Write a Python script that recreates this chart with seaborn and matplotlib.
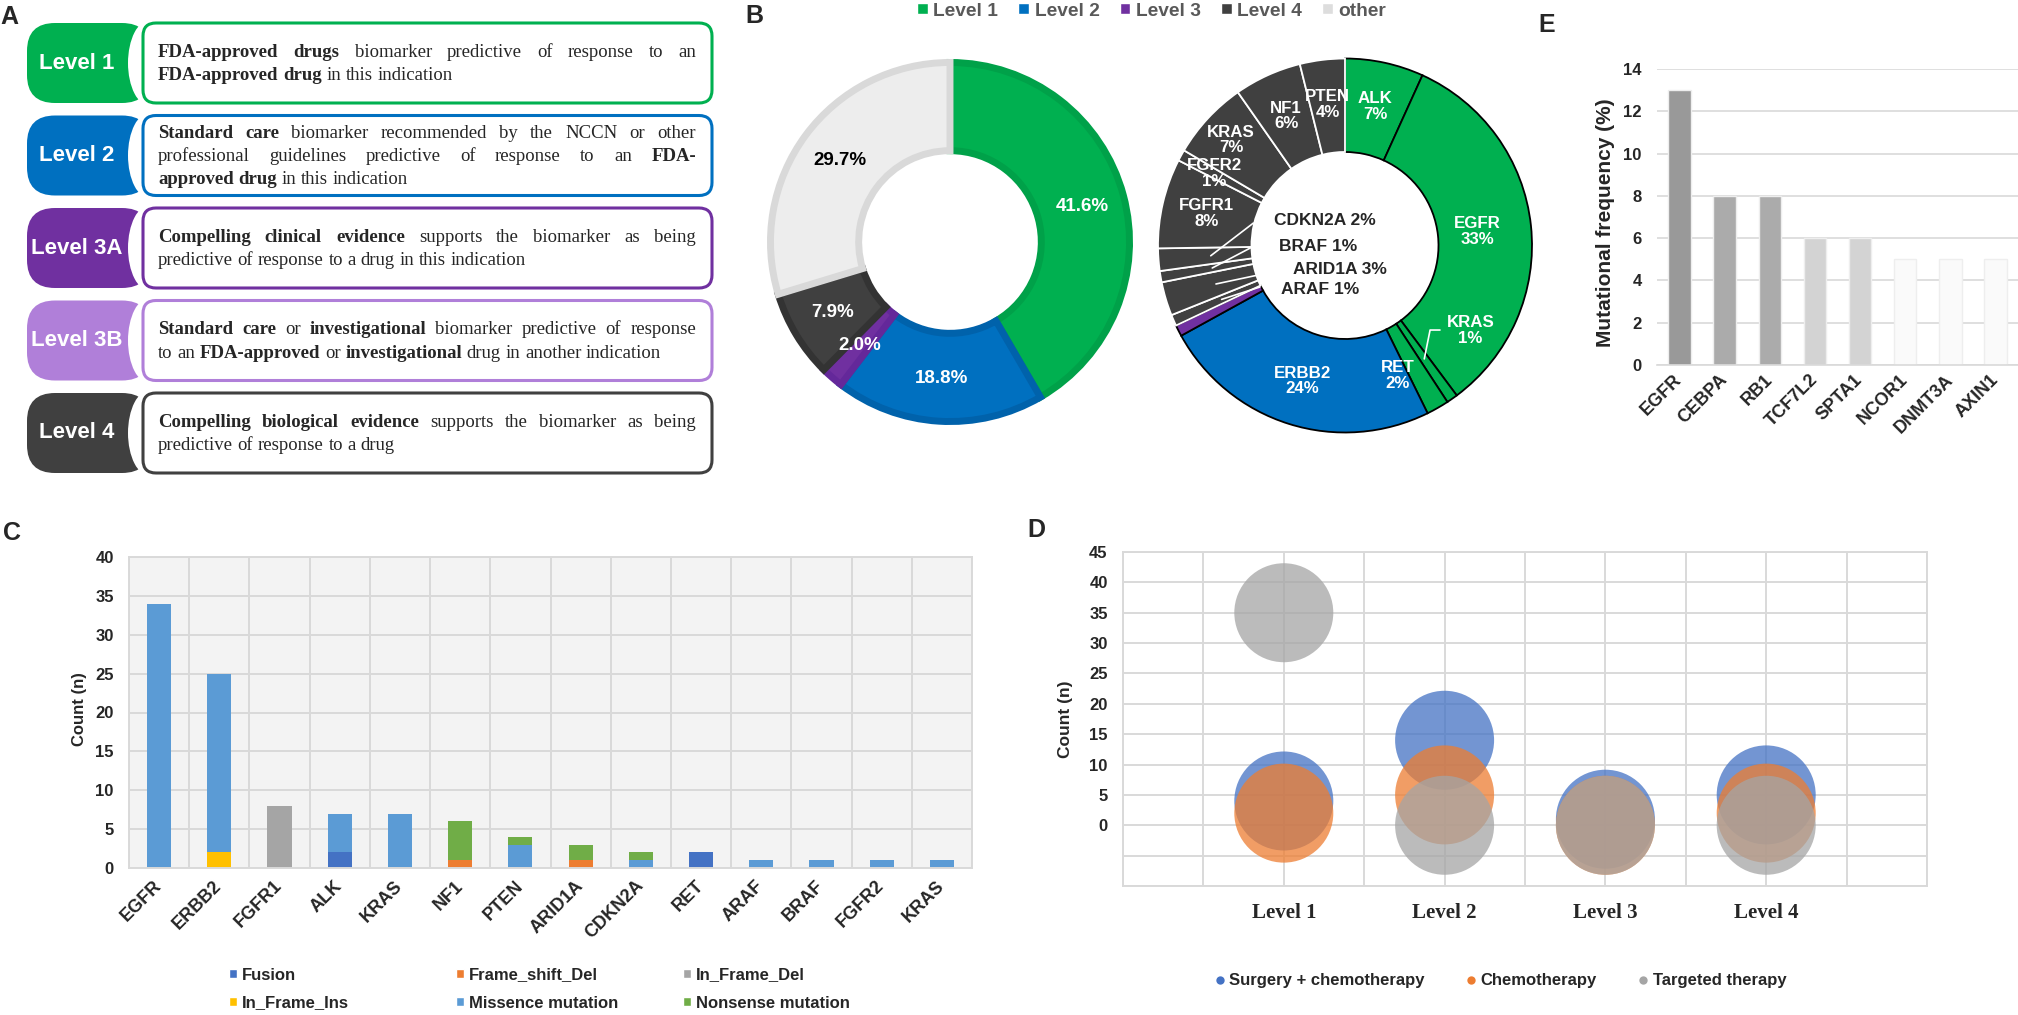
import numpy as np
import pandas as pd
import matplotlib
matplotlib.use("Agg")
import matplotlib.pyplot as plt
import seaborn as sns
from matplotlib.patches import FancyBboxPatch, Ellipse, Patch
from matplotlib.lines import Line2D
from matplotlib.ticker import FuncFormatter

#Data#########################################################################

#Panel A: evidence levels
a_levels = ["Level 1", "Level 2", "Level 3A", "Level 3B", "Level 4"]
a_colors = ["#00B050", "#0070C0", "#7030A0", "#B07FD9", "#404040"]
a_lines = [
    ["*FDA-approved drugs* biomarker predictive of response to an",
     "*FDA-approved drug* in this indication"],
    ["*Standard care* biomarker recommended by the NCCN or other",
     "professional guidelines predictive of response to an *FDA-*",
     "*approved drug* in this indication"],
    ["*Compelling clinical evidence* supports the biomarker as being",
     "predictive of response to a drug in this indication"],
    ["*Standard care* or *investigational* biomarker predictive of response",
     "to an *FDA-approved* or *investigational* drug in another indication"],
    ["*Compelling biological evidence* supports the biomarker as being",
     "predictive of response to a drug"],
]

#Panel B: share by level (left ring) and genes (right ring)
b_levels = ["Level 1", "Level 2", "Level 3", "Level 4", "other"]
b_share = [41.6, 18.8, 2.0, 7.9, 29.7]
b_colors = ["#00B050", "#0070C0", "#7030A0", "#404040", "#EDEDED"]
b_edges = ["#00A149", "#0062AB", "#64289A", "#333333", "#D9D9D9"]

r_genes = ["ALK", "EGFR", "KRAS", "RET", "ERBB2", "", "ARAF", "ARID1A", "BRAF",
           "CDKN2A", "FGFR1", "FGFR2", "KRAS", "NF1", "PTEN"]
r_counts = [7, 34, 1, 2, 25, 1, 1, 3, 1, 2, 8, 1, 7, 6, 4]
r_level = ["Level 1", "Level 1", "Level 1", "Level 1", "Level 2", "Level 3",
           "Level 4", "Level 4", "Level 4", "Level 4", "Level 4", "Level 4",
           "Level 4", "Level 4", "Level 4"]

#Panel C: mutation types per gene
c_genes = ["EGFR", "ERBB2", "FGFR1", "ALK", "KRAS", "NF1", "PTEN", "ARID1A",
           "CDKN2A", "RET", "ARAF", "BRAF", "FGFR2", "KRAS"]
c_types = ["Fusion", "Frame_shift_Del", "In_Frame_Del", "In_Frame_Ins",
           "Missence mutation", "Nonsense mutation"]
c_fusion = [0, 0, 0, 2, 0, 0, 0, 0, 0, 2, 0, 0, 0, 0]
c_frameshift = [0, 0, 0, 0, 0, 1, 0, 1, 0, 0, 0, 0, 0, 0]
c_inframe_del = [0, 0, 8, 0, 0, 0, 0, 0, 0, 0, 0, 0, 0, 0]
c_inframe_ins = [0, 2, 0, 0, 0, 0, 0, 0, 0, 0, 0, 0, 0, 0]
c_missence = [34, 23, 0, 5, 7, 0, 3, 0, 1, 0, 1, 1, 1, 1]
c_nonsense = [0, 0, 0, 0, 0, 5, 1, 2, 1, 0, 0, 0, 0, 0]
c_colors = ["#4472C4", "#ED7D31", "#A5A5A5", "#FFC000", "#5B9BD5", "#70AD47"]

#Panel D: therapy by level
d_levels = ["Level 1", "Level 2", "Level 3", "Level 4"]
d_therapies = ["Surgery + chemotherapy", "Chemotherapy", "Targeted therapy"]
d_surgery = [4, 14, 1, 5]
d_chemo = [2, 5, 0, 2]
d_targeted = [35, 0, 0, 0]
d_colors = ["#4472C4", "#ED7D31", "#A5A5A5"]

#Panel E: mutational frequency
e_genes = ["EGFR", "CEBPA", "RB1", "TCF7L2", "SPTA1", "NCOR1", "DNMT3A", "AXIN1"]
e_freq = [13, 8, 8, 6, 6, 5, 5, 5]
e_colors = ["#999999", "#ABABAB", "#ABABAB", "#D3D3D3", "#D3D3D3",
            "#FAFAFA", "#FAFAFA", "#FAFAFA"]

#Figure########################################################################

W, H = 2018, 1015
sns.set_style("white")
plt.rcParams["font.family"] = ["Liberation Sans", "DejaVu Sans"]
GRID = "#D9D9D9"

fig = plt.figure(figsize=(W / 100, H / 100), dpi=100)


#Axes placed by pixel box (left, top, right, bottom)
def px_axes(x0, y0, x1, y1):
    return fig.add_axes([x0 / W, 1 - y1 / H, (x1 - x0) / W, (y1 - y0) / H])


def bold_ticks(labels):
    for lab in labels:
        lab.set_fontweight("bold")


#Overlay in pixel coordinates for panel A and the letters
ov = fig.add_axes([0, 0, 1, 1])
ov.set_xlim(0, W)
ov.set_ylim(H, 0)
ov.axis("off")


def parse_line(line):
    out = []
    bold = False
    for w in line.split(" "):
        if w.startswith("*"):
            bold = True
            w = w[1:]
        end = w.endswith("*")
        if end:
            w = w[:-1]
        out.append((w, bold))
        if end:
            bold = False
    return out


renderer = fig.canvas.get_renderer()


def draw_line(x0, x1, y, line, justify, size=13.5):
    words = parse_line(line)
    texts = []
    for w, b in words:
        texts.append(ov.text(0, y, w, fontsize=size, family="Liberation Serif",
                             fontweight="bold" if b else "normal",
                             ha="left", va="center", zorder=5))
    widths = [t.get_window_extent(renderer).width for t in texts]
    if justify and len(texts) > 1:
        gap = (x1 - x0 - sum(widths)) / (len(texts) - 1)
    else:
        gap = size * 100 / 72 * 0.25
    x = x0
    for t, wd in zip(texts, widths):
        t.set_x(x)
        x += wd + gap


#Panel A#######################################################################
for i, (lvl, col, lines) in enumerate(zip(a_levels, a_colors, a_lines)):
    top = 23 + i * 92.5
    hgt = 80
    pill = FancyBboxPatch((27, top), 123, hgt,
                          boxstyle="round,pad=0,rounding_size=28",
                          fc=col, ec="none", zorder=1)
    ov.add_patch(pill)
    ov.add_patch(Ellipse((150, top + hgt / 2), 44, 86, fc="white", ec="none", zorder=2))
    box = FancyBboxPatch((143, top), 569, hgt,
                         boxstyle="round,pad=0,rounding_size=13",
                         fc="white", ec=col, lw=2.2, zorder=3)
    ov.add_patch(box)
    ov.text(77, top + hgt / 2, lvl, color="white", fontsize=16,
            fontweight="bold", ha="center", va="center", zorder=4)
    n = len(lines)
    y0 = top + 41 - (n - 1) * 23 / 2
    for j, line in enumerate(lines):
        draw_line(158, 696, y0 + j * 23, line, justify=(j < n - 1))

#Panel letters
for lab, x, y in [("A", 9, 17), ("B", 754, 16), ("C", 12, 533),
                  ("D", 1036, 530), ("E", 1547, 25)]:
    ov.text(x, y, lab, fontsize=18, fontweight="bold", ha="center", va="center")

#Panel B: left ring#############################################################
axL = px_axes(767, 59, 1133, 425)
wedges, _ = axL.pie(b_share, startangle=90, counterclock=False, radius=0.981,
                    colors=b_colors, wedgeprops=dict(width=0.482, linewidth=5))
for w, ec in zip(wedges, b_edges):
    w.set_edgecolor(ec)
axL.set_xlim(-1, 1)
axL.set_ylim(-1, 1)
for w, v, tc in zip(wedges, b_share, ["white"] * 4 + ["black"]):
    ang = np.deg2rad((w.theta1 + w.theta2) / 2)
    axL.text(0.75 * np.cos(ang), 0.75 * np.sin(ang), f"{v:.1f}%", color=tc,
             fontsize=13.5, fontweight="bold", ha="center", va="center")

#Panel B: right ring############################################################
axR = px_axes(1158, 58.5, 1532, 432.5)
level_col = dict(zip(b_levels, b_colors))
r_cols = [level_col[l] for l in r_level]
wedges, _ = axR.pie(r_counts, startangle=90, counterclock=False, radius=1,
                    colors=r_cols, wedgeprops=dict(width=0.5, linewidth=1.3))
for w, l in zip(wedges, r_level):
    w.set_edgecolor("white" if l == "Level 4" else "black")
axR.set_xlim(-1, 1)
axR.set_ylim(-1, 1)

total = sum(r_counts)
r_pct = [round(100 * c / total) for c in r_counts]
ring_pos = {1: (None, 0.71), 2: (-34, 0.81), 3: (-68, 0.75), 11: (None, 0.8),
            12: (None, 0.83)}
inner_pos = {6: (-0.134, -0.233), 7: (-0.027, -0.126), 8: (-0.144, -0.008),
             9: (-0.107, 0.136)}
inner_lead = {6: (-0.455, -0.222), 7: (-0.465, -0.158), 8: (-0.50, -0.01),
              9: (-0.49, 0.12)}
for i, (w, g, p) in enumerate(zip(wedges, r_genes, r_pct)):
    if not g:
        continue
    mid = (w.theta1 + w.theta2) / 2
    if i in inner_pos:
        x, y = inner_pos[i]
        axR.text(x, y, f"{g} {p}%", fontsize=12.5, fontweight="bold",
                 ha="center", va="center")
        ang = np.deg2rad(mid)
        axR.plot([inner_lead[i][0], 0.72 * np.cos(ang)],
                 [inner_lead[i][1], 0.72 * np.sin(ang)], color="white", lw=1.2)
        continue
    a, r = ring_pos.get(i, (None, 0.76))
    ang = np.deg2rad(mid if a is None else a)
    axR.text(r * np.cos(ang), r * np.sin(ang), f"{g}\n{p}%", color="white",
             fontsize=12.2, fontweight="bold", ha="center", va="center",
             linespacing=1.05)
#leader for the thin KRAS slice
ang = np.deg2rad((wedges[2].theta1 + wedges[2].theta2) / 2)
axR.plot([0.508, 0.455, 0.74 * np.cos(ang)], [-0.452, -0.452, 0.74 * np.sin(ang)],
         color="white", lw=1.2)

leg_cols = b_colors[:4] + ["#DDDDDD"]
fig.legend(handles=[Patch(facecolor=c) for c in leg_cols], labels=b_levels,
           loc="center left", bbox_to_anchor=(917 / W, 1 - 11 / H), ncol=5,
           frameon=False, prop={"weight": "bold", "size": 13.8},
           labelcolor="#595959", handlelength=0.55, handleheight=0.55,
           handletextpad=0.3, columnspacing=1.05, borderpad=0, borderaxespad=0)

#Panel E########################################################################
axE = px_axes(1657, 69, 2018, 365)
sns.barplot(x=e_genes, y=e_freq, hue=e_genes, palette=e_colors, legend=False,
            width=0.5, saturation=1, linewidth=1, edgecolor="#EEEEEE", ax=axE)
axE.set_ylim(0, 14)
axE.set_xlim(-0.5, 7.5)
axE.set_yticks(range(0, 15, 2))
axE.set_axisbelow(True)
axE.grid(axis="y", color=GRID, lw=1.2)
for s in ["left", "top", "right"]:
    axE.spines[s].set_visible(False)
axE.spines["bottom"].set_color(GRID)
axE.spines["bottom"].set_linewidth(1.2)
axE.set_xticks(range(len(e_genes)))
axE.set_xticklabels(e_genes, rotation=45, ha="right", va="center",
                    rotation_mode="anchor", fontsize=13, fontweight="bold")
axE.tick_params(axis="x", pad=9, length=0)
axE.tick_params(axis="y", pad=11, length=0, labelsize=12)
bold_ticks(axE.get_yticklabels())
axE.set_xlabel("")
axE.set_ylabel("Mutational frequency (%)", fontsize=15, fontweight="bold")
axE.yaxis.set_label_coords(-0.116, 0.48)

#Panel C########################################################################
axC = px_axes(129, 557, 972, 868)
idx = list(range(len(c_genes)))
layers = np.array([c_fusion, c_frameshift, c_inframe_del, c_inframe_ins,
                   c_missence, c_nonsense])
cum = np.cumsum(layers, axis=0)
for i in reversed(range(len(c_types))):
    sns.barplot(x=idx, y=cum[i], color=c_colors[i], width=0.4, saturation=1,
                linewidth=0, ax=axC)
axC.set_facecolor("#F3F3F3")
axC.set_ylim(0, 40)
axC.set_xlim(-0.5, len(c_genes) - 0.5)
axC.set_yticks(range(0, 41, 5))
axC.set_xticks(idx)
axC.set_xticks(np.arange(-0.5, len(c_genes), 1), minor=True)
axC.set_axisbelow(True)
axC.grid(axis="y", which="major", color=GRID, lw=1.4)
axC.grid(axis="x", which="minor", color=GRID, lw=1.4)
for s in axC.spines.values():
    s.set_color(GRID)
    s.set_linewidth(1.4)
axC.set_xticklabels(c_genes, rotation=45, ha="right", va="center",
                    rotation_mode="anchor", fontsize=13, fontweight="bold")
axC.tick_params(axis="x", which="both", pad=11, length=0)
axC.tick_params(axis="y", pad=11, length=0, labelsize=12)
bold_ticks(axC.get_yticklabels())
axC.set_xlabel("")
axC.set_ylabel("Count (n)", fontsize=12, fontweight="bold")
axC.yaxis.set_label_coords(-0.05, 0.51)

c_handles = [Patch(facecolor=c) for c in c_colors]
for k, xm in enumerate([229, 456, 683]):
    fig.legend(handles=[c_handles[k], c_handles[k + 3]],
               labels=[c_types[k], c_types[k + 3]],
               loc="center left", bbox_to_anchor=(xm / W, 1 - 989 / H),
               frameon=False, prop={"weight": "bold", "size": 12},
               handlelength=0.5, handleheight=0.5, handletextpad=0.3,
               labelspacing=0.78, borderpad=0, borderaxespad=0)

#Panel D########################################################################
axD = px_axes(1123, 552, 1927, 886)
df_d = pd.DataFrame({
    "level": list(range(1, 5)) * 3,
    "count": d_surgery + d_chemo + d_targeted,
    "therapy": [t for t in d_therapies for _ in d_levels],
})
sns.scatterplot(data=df_d, x="level", y="count", hue="therapy",
                palette=dict(zip(d_therapies, d_colors)), s=5080, alpha=0.75,
                linewidth=0, legend=False, ax=axD)
axD.set_xlim(0, 5)
axD.set_ylim(-10, 45)
axD.set_yticks(np.arange(-10, 46, 5))
axD.yaxis.set_major_formatter(FuncFormatter(lambda v, p: f"{v:.0f}" if v >= 0 else ""))
axD.set_xticks(range(1, 5))
axD.set_xticks(np.arange(0, 5.01, 0.5), minor=True)
axD.set_xticklabels(d_levels, family="Liberation Serif", fontsize=15,
                    fontweight="bold")
axD.set_axisbelow(True)
axD.grid(axis="y", color=GRID, lw=1.4)
axD.grid(axis="x", which="both", color=GRID, lw=1.4)
for s in axD.spines.values():
    s.set_color(GRID)
    s.set_linewidth(1.4)
axD.tick_params(axis="x", which="both", pad=12, length=0)
axD.tick_params(axis="y", pad=11, length=0, labelsize=12)
bold_ticks(axD.get_yticklabels())
axD.set_xlabel("")
axD.set_ylabel("Count (n)", fontsize=12.5, fontweight="bold")
axD.yaxis.set_label_coords(-0.062, 0.5)

d_handles = [Line2D([], [], ls="none", marker="o", markersize=6, color=c,
                    markeredgewidth=0) for c in d_colors]
fig.legend(handles=d_handles, labels=d_therapies, loc="center left",
           bbox_to_anchor=(1215 / W, 1 - 981 / H), ncol=3, frameon=False,
           prop={"weight": "bold", "size": 12}, handlelength=0.6,
           handletextpad=0.25, columnspacing=2.5, borderpad=0, borderaxespad=0)

plt.savefig("out.png", dpi=100)
